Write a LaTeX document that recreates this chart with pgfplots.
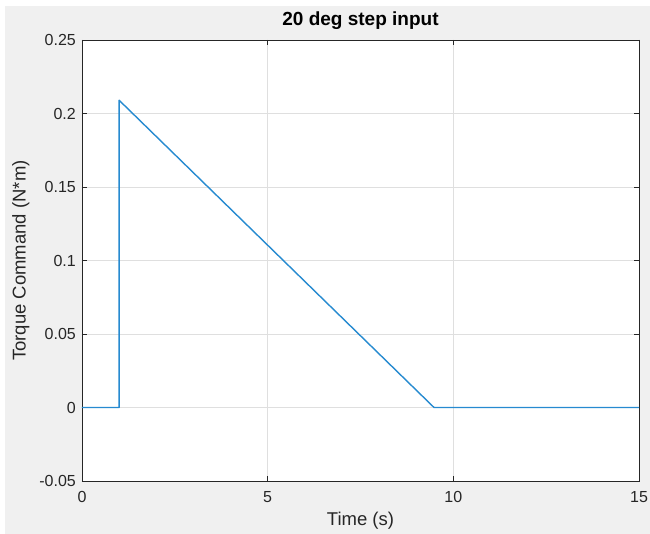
\documentclass[border=0pt]{standalone}
\usepackage{pgfplots}
\pgfplotsset{compat=1.18}
\usepackage{fontspec}
\setmainfont{Liberation Sans}
\definecolor{mblue}{RGB}{38,138,208}
\definecolor{figgray}{RGB}{240,240,240}
\definecolor{axgray}{RGB}{38,38,38}
\definecolor{gridgray}{RGB}{223,223,223}
\begin{document}
\begin{tikzpicture}
  % page and figure background (1px = 1pt)
  \fill[white] (-82pt,-53pt) rectangle (568pt,481pt);
  \fill[figgray] (-77pt,-53pt) rectangle (568pt,475pt);
  \path[use as bounding box] (-82pt,-53pt) rectangle (568pt,481pt);
  \begin{axis}[
      at={(0pt,0pt)}, anchor=south west,
      scale only axis,
      width=557pt, height=441pt,
      xmin=0, xmax=15, ymin=-0.05, ymax=0.25,
      xtick={0,5,10,15},
      ytick={-0.05,0,0.05,0.1,0.15,0.2,0.25},
      yticklabels={-0.05,0,0.05,0.1,0.15,0.2,0.25},
      axis background/.style={fill=white},
      axis line style={axgray, line width=0.9pt},
      tick style={axgray, line width=0.9pt},
      major tick length=5pt,
      tick align=inside,
      grid=major,
      major grid style={gridgray, line width=0.9pt},
      /pgf/number format/assume math mode=true,
      tick label style={font=\fontsize{16}{19}\selectfont, text=axgray},
      xticklabel style={anchor=north, inner sep=0pt, yshift=-10pt},
      yticklabel style={anchor=east, inner sep=0pt, xshift=-6pt},
      title={\textbf{20 deg step input}},
      title style={font=\fontsize{19}{22}\selectfont,
        at={(axis description cs:0.5,1.031)}, anchor=center},
      xlabel={Time (s)},
      ylabel={Torque Command (N*m)},
      label style={font=\fontsize{18.5}{22}\selectfont, text=axgray},
      xlabel style={at={(axis description cs:0.5,-0.090)}, anchor=center},
      ylabel style={at={(axis description cs:-0.110,0.5)}, anchor=center, rotate=0},
    ]
    \addplot[mblue, line width=1.4pt, line join=round] coordinates {
      (0,0) (1,0) (1,0.209) (9.48,0) (15,0)
    };
  \end{axis}
\end{tikzpicture}
\end{document}
